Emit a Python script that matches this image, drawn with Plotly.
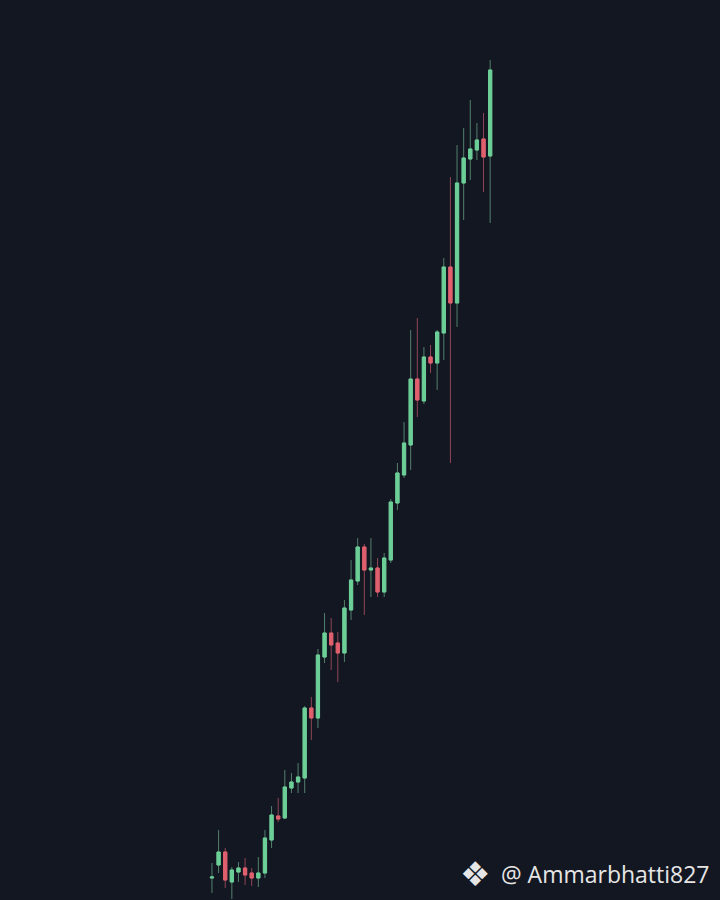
import pandas as pd
import plotly.graph_objects as go

# daily candles, prices
dates = pd.date_range("2023-10-01", periods=43, freq="D")

open_ = [12.2, 13.5, 14.8, 11.8, 12.8, 13.2, 12.7, 12.2, 12.7, 16.0,
         18.4, 18.2, 21.2, 21.8, 22.2, 29.2, 28.2, 34.3, 36.7, 35.7,
         34.7, 39.0, 41.9, 45.3, 43.0, 43.2, 40.8, 44.0, 49.7, 52.5,
         55.5, 62.1, 59.9, 64.3, 63.7, 66.7, 73.3, 69.7, 81.7, 84.1,
         85.0, 86.1, 84.4]
high = [13.7, 17.0, 15.2, 13.3, 13.8, 14.2, 13.2, 14.3, 17.0, 19.4,
        20.2, 23.0, 22.7, 23.7, 29.4, 30.3, 35.1, 38.7, 38.2, 36.8,
        40.0, 44.0, 46.2, 45.6, 46.2, 44.2, 44.7, 50.1, 53.7, 57.8,
        67.0, 68.2, 65.3, 65.5, 67.0, 74.2, 82.3, 85.5, 87.2, 90.0,
        87.7, 88.7, 94.0]
low = [10.7, 12.7, 11.2, 10.1, 11.8, 11.5, 11.4, 11.3, 12.2, 15.2,
       17.8, 18.1, 20.7, 20.7, 20.7, 26.0, 27.2, 33.7, 33.0, 31.8,
       33.8, 38.0, 41.5, 38.5, 40.3, 40.3, 40.3, 43.7, 49.0, 52.2,
       53.0, 58.3, 59.6, 62.7, 61.0, 64.0, 53.7, 67.3, 78.0, 82.0,
       84.0, 80.8, 77.7]
close = [12.3, 14.8, 12.0, 13.0, 13.2, 12.5, 12.2, 12.7, 16.2, 18.5,
         18.1, 21.3, 21.8, 22.3, 29.2, 28.2, 34.5, 36.7, 35.5, 34.7,
         39.2, 42.0, 45.3, 43.0, 43.2, 40.8, 44.2, 49.8, 52.7, 55.7,
         62.1, 60.0, 64.3, 63.7, 66.8, 73.3, 69.7, 81.7, 84.2, 85.1,
         86.0, 84.3, 93.0]

body_top = [max(o, c) for o, c in zip(open_, close)]
body_bot = [min(o, c) for o, c in zip(open_, close)]

UP = "#6ccf97"
DOWN = "#e0606e"
UP_WICK = "#52806c"
DOWN_WICK = "#8f4656"
BG = "#131722"

fig = go.Figure()

# wicks (dim)
fig.add_trace(
    go.Candlestick(
        x=dates, open=open_, high=high, low=low, close=close,
        increasing=dict(line=dict(color=UP_WICK, width=1), fillcolor=UP_WICK),
        decreasing=dict(line=dict(color=DOWN_WICK, width=1), fillcolor=DOWN_WICK),
        whiskerwidth=0,
        hoverinfo="skip",
        showlegend=False,
    )
)

# bodies on top
fig.add_trace(
    go.Candlestick(
        x=dates, open=open_, high=body_top, low=body_bot, close=close,
        increasing=dict(line=dict(color=UP, width=1), fillcolor=UP),
        decreasing=dict(line=dict(color=DOWN, width=1), fillcolor=DOWN),
        name="",
        showlegend=False,
    )
)

x0 = dates[0] - pd.Timedelta(days=32)
x1 = dates[0] + pd.Timedelta(days=76.7)

fig.add_annotation(
    text="❖", xref="paper", yref="paper", x=0.66, y=0.029,
    xanchor="center", yanchor="middle", showarrow=False,
    font=dict(family="DejaVu Sans", size=34, color="#e6e6e6"),
)
fig.add_annotation(
    text="@ Ammarbhatti827", xref="paper", yref="paper", x=0.989, y=0.029,
    xanchor="right", yanchor="middle", showarrow=False,
    font=dict(family="Open Sans", size=23, color="#e6e6e6"),
)

fig.update_layout(
    width=720,
    height=900,
    margin=dict(l=0, r=0, t=0, b=0),
    paper_bgcolor=BG,
    plot_bgcolor=BG,
    boxgap=0.3,
    xaxis=dict(range=[x0, x1], visible=False, rangeslider_visible=False),
    yaxis=dict(range=[10, 100], visible=False),
    hovermode="x",
)

fig.write_html(
    "out.html",
    config={"displayModeBar": False},
    post_script="document.body.style.margin='0';document.body.style.background='%s';" % BG,
)
